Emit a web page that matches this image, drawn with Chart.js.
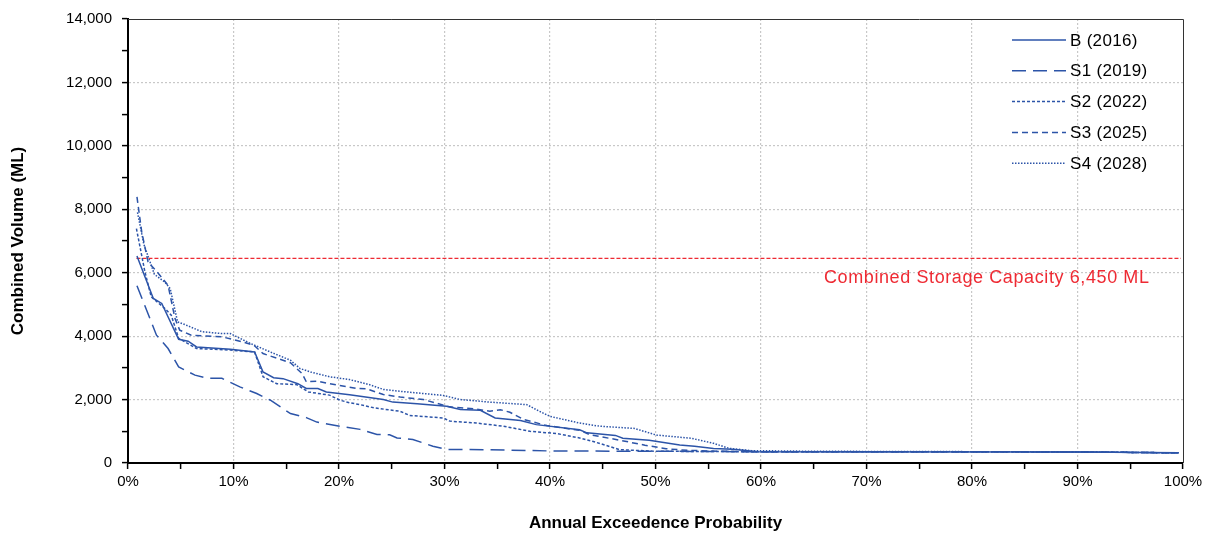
<!DOCTYPE html>
<html>
<head>
<meta charset="utf-8">
<title>Combined Volume</title>
<script src="https://cdn.jsdelivr.net/npm/chart.js@4"></script>
<style>
    body { margin: 0; background: #fff; }
    #wrap { width: 1224px; height: 541px; }
</style>
</head>
<body>
<div id="wrap"><canvas id="grafica" width="1224" height="541"></canvas></div>
<script>
// Series (AEP % , volume ML)
const bAep = [0.85, 2.4, 3.2, 4.8, 5.7, 6.5, 9.7, 12.0, 12.8, 13.8, 14.7, 16.1, 16.9, 18.0, 18.8, 21.0, 24.2, 25.1, 27.4, 30.2, 31.5, 33.4, 34.8, 37.2, 38.7, 42.8, 43.5, 46.2, 46.9, 49.4, 52.3, 53.7, 55.5, 57.3, 59.7, 90, 99.6];
const bVol = [6530, 5190, 5030, 3900, 3840, 3660, 3590, 3500, 2870, 2690, 2660, 2500, 2350, 2350, 2240, 2150, 2000, 1920, 1870, 1790, 1690, 1660, 1420, 1340, 1210, 1050, 950, 870, 780, 720, 570, 530, 460, 430, 355, 350, 320];

const s1Aep = [0.85, 2.7, 3.8, 4.8, 6.35, 7.6, 8.9, 10.6, 12.2, 13.5, 15.4, 16.9, 17.9, 20.1, 22.0, 23.6, 24.8, 25.5, 27.0, 28.9, 30.2, 34.3, 40, 50, 60, 90, 99.6];
const s1Vol = [5590, 4030, 3610, 3030, 2770, 2670, 2670, 2400, 2190, 1980, 1560, 1430, 1290, 1160, 1060, 900, 890, 790, 740, 530, 430, 420, 380, 370, 355, 350, 320];

const s2Aep = [0.8, 1.6, 2.2, 3.5, 4.1, 4.8, 6.5, 9.7, 12.0, 12.8, 14.1, 16.0, 17.1, 19.1, 20.1, 21.0, 22.0, 23.3, 25.8, 26.7, 29.9, 30.5, 33.0, 35.6, 38.1, 40.6, 42.8, 44.1, 46.6, 50, 60, 90, 99.6];
const s2Vol = [7390, 6030, 5240, 4870, 4660, 3930, 3610, 3560, 3500, 2720, 2500, 2470, 2240, 2140, 1980, 1900, 1840, 1740, 1630, 1500, 1420, 1320, 1260, 1160, 1000, 930, 790, 680, 420, 370, 355, 350, 320];

const s3Aep = [0.85, 1.3, 1.9, 2.9, 3.8, 4.45, 4.9, 6.0, 8.9, 10.6, 11.9, 12.8, 15.4, 16.5, 16.9, 18.0, 19.1, 21.7, 22.6, 24.2, 25.8, 28.0, 30.5, 31.5, 33.0, 34.3, 35.3, 36.2, 37.5, 39.7, 42.8, 43.8, 46.6, 49, 51, 53, 56, 60, 90, 99.6];
const s3Vol = [8390, 7290, 6340, 5970, 5600, 4560, 4190, 4030, 3980, 3840, 3720, 3450, 3160, 2820, 2560, 2580, 2500, 2350, 2340, 2160, 2080, 2000, 1770, 1740, 1700, 1630, 1680, 1600, 1370, 1180, 1030, 890, 720, 560, 450, 400, 370, 355, 350, 320];

const s4Aep = [0.9, 1.5, 2.5, 3.5, 4.0, 4.7, 5.5, 7, 8.9, 9.7, 11.6, 13.5, 15.4, 16.3, 17.3, 19.1, 21, 22.9, 24.2, 25.8, 27.4, 29.9, 31.5, 34.3, 37.8, 39, 40, 42.8, 44.7, 48, 50.1, 53.4, 55.5, 57, 59.1, 65, 90, 99.6];
const s4Vol = [7900, 6900, 5950, 5700, 5500, 4450, 4350, 4140, 4080, 4080, 3770, 3500, 3240, 2980, 2870, 2720, 2630, 2470, 2320, 2260, 2210, 2130, 2000, 1920, 1840, 1630, 1470, 1260, 1160, 1090, 880, 780, 620, 460, 390, 370, 350, 320];

// Storage capacity line
const capAep = [0.8, 99.8];
const capVol = [6450, 6450];
const capText = "Combined Storage Capacity 6,450 ML";

// Axis ticks
const yTicks = [0, 2000, 4000, 6000, 8000, 10000, 12000, 14000];
const xTicks = [0, 10, 20, 30, 40, 50, 60, 70, 80, 90, 100];

const AZUL = "#2c54a8";
const ROJO = "#ee2a33";
const FUENTE = "'Liberation Sans', Arial, sans-serif";

function puntos(xs, ys) {
    return xs.map((x, i) => ({ x: x, y: ys[i] }));
}

function serie(label, xs, ys, dash) {
    return {
        label: label,
        data: puntos(xs, ys),
        borderColor: AZUL,
        borderWidth: 1.5,
        borderDash: dash,
        pointRadius: 0,
        tension: 0,
        fill: false
    };
}

// Borders, capacity label and legend
const extras = {
    id: "extras",
    afterDraw(chart) {
        const ctx = chart.ctx;
        const a = chart.chartArea;
        const xs = chart.scales.x;
        const ys = chart.scales.y;

        ctx.save();
        ctx.strokeStyle = "#333";
        ctx.lineWidth = 1;
        ctx.beginPath();
        ctx.moveTo(a.left, a.top + 0.5);
        ctx.lineTo(a.right + 0.5, a.top + 0.5);
        ctx.lineTo(a.right + 0.5, a.bottom);
        ctx.stroke();

        ctx.fillStyle = ROJO;
        ctx.font = "18px " + FUENTE;
        ctx.letterSpacing = "0.6px";
        ctx.textAlign = "center";
        ctx.textBaseline = "middle";
        ctx.fillText(capText, xs.getPixelForValue(81.4), ys.getPixelForValue(capVol[0]) + 20);

        // legend
        ctx.font = "17px " + FUENTE;
        ctx.letterSpacing = "0.3px";
        ctx.textAlign = "left";
        ctx.fillStyle = "#000";
        const x0 = a.right - 171;
        chart.data.datasets.slice(0, 5).forEach((d, i) => {
            const y = a.top + 21 + i * 30.8;
            ctx.strokeStyle = d.borderColor;
            ctx.lineWidth = 1.5;
            ctx.setLineDash(d.borderDash);
            ctx.beginPath();
            ctx.moveTo(x0, y);
            ctx.lineTo(x0 + 54, y);
            ctx.stroke();
            ctx.setLineDash([]);
            ctx.fillText(d.label, x0 + 58, y + 1);
        });
        ctx.restore();
    }
};

new Chart(document.getElementById("grafica"), {
    type: "line",
    data: {
        datasets: [
            serie("B (2016)", bAep, bVol, []),
            serie("S1 (2019)", s1Aep, s1Vol, [14, 7]),
            serie("S2 (2022)", s2Aep, s2Vol, [3, 2]),
            serie("S3 (2025)", s3Aep, s3Vol, [6, 4]),
            serie("S4 (2028)", s4Aep, s4Vol, [1.5, 1.5]),
            {
                label: "cap",
                data: puntos(capAep, capVol),
                borderColor: ROJO,
                borderWidth: 1.2,
                borderDash: [4, 2],
                pointRadius: 0
            }
        ]
    },
    options: {
        responsive: false,
        animation: false,
        layout: { padding: { top: 17, right: 41, left: 0, bottom: 0 } },
        plugins: {
            legend: { display: false },
            tooltip: { enabled: false }
        },
        scales: {
            x: {
                type: "linear",
                min: 0,
                max: 100,
                afterBuildTicks: s => {
                    const t = [];
                    for (let v = 0; v <= 100; v += 5) t.push({ value: v });
                    s.ticks = t;
                },
                afterFit: s => { s.height = 78; },
                ticks: {
                    autoSkip: false,
                    maxRotation: 0,
                    padding: 4,
                    color: "#000",
                    font: { family: FUENTE, size: 15 },
                    callback: v => xTicks.includes(v) ? v + "%" : ""
                },
                grid: {
                    color: c => (c.tick && c.tick.value % 10 === 0 && c.tick.value > 0 && c.tick.value < 100) ? "#c8c8c8" : "transparent",
                    lineWidth: 1.2,
                    tickLength: 6,
                    tickColor: "#000",
                    tickWidth: 1.5,
                    tickBorderDash: []
                },
                border: { display: true, color: "#000", width: 2, dash: [2, 2] },
                title: {
                    display: true,
                    text: "Annual Exceedence Probability",
                    color: "#000",
                    font: { family: FUENTE, size: 17, weight: "bold" },
                    padding: { top: 0, bottom: 7 }
                }
            },
            y: {
                min: 0,
                max: 14000,
                afterBuildTicks: s => {
                    const t = [];
                    for (let v = 0; v <= 14000; v += 1000) t.push({ value: v });
                    s.ticks = t;
                },
                afterFit: s => { s.width = 128; },
                ticks: {
                    autoSkip: false,
                    padding: 10,
                    color: "#000",
                    font: { family: FUENTE, size: 15 },
                    callback: v => yTicks.includes(v) ? v.toLocaleString("en-US") : ""
                },
                grid: {
                    color: c => (c.tick && c.tick.value % 2000 === 0 && c.tick.value > 0 && c.tick.value < 14000) ? "#c8c8c8" : "transparent",
                    lineWidth: 1.2,
                    tickLength: 6,
                    tickColor: "#000",
                    tickWidth: 1.5,
                    tickBorderDash: []
                },
                border: { display: true, color: "#000", width: 2, dash: [2, 2] },
                title: {
                    display: true,
                    text: "Combined Volume (ML)",
                    color: "#000",
                    font: { family: FUENTE, size: 17, weight: "bold" },
                    padding: { top: 8, bottom: 0 }
                }
            }
        }
    },
    plugins: [extras]
});
</script>
</body>
</html>
